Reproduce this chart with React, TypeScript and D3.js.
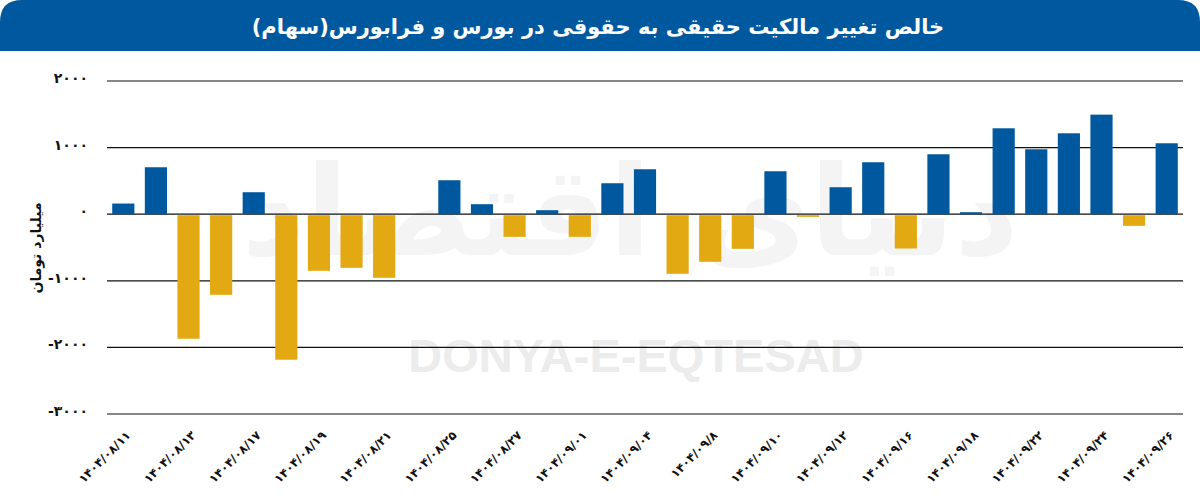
import React from "react";
import * as d3 from "d3";

const title = "خالص تغییر مالکیت حقیقی به حقوقی در بورس و فرابورس(سهام)";
const yAxisLabel = "میلیارد تومان";
const watermark = "DONYA-E-EQTESAD";
const watermarkFa = "دنیای اقتصاد";

const dates = [
  "۱۴۰۴/۰۸/۱۱", "۱۴۰۴/۰۸/۱۲", "۱۴۰۴/۰۸/۱۳", "۱۴۰۴/۰۸/۱۴", "۱۴۰۴/۰۸/۱۷",
  "۱۴۰۴/۰۸/۱۸", "۱۴۰۴/۰۸/۱۹", "۱۴۰۴/۰۸/۲۰", "۱۴۰۴/۰۸/۲۱", "۱۴۰۴/۰۸/۲۴",
  "۱۴۰۴/۰۸/۲۵", "۱۴۰۴/۰۸/۲۶", "۱۴۰۴/۰۸/۲۷", "۱۴۰۴/۰۸/۲۸", "۱۴۰۴/۰۹/۰۱",
  "۱۴۰۴/۰۹/۰۳", "۱۴۰۴/۰۹/۰۴", "۱۴۰۴/۰۹/۰۵", "۱۴۰۴/۰۹/۸", "۱۴۰۴/۰۹/۰۹",
  "۱۴۰۴/۰۹/۱۰", "۱۴۰۴/۰۹/۱۱", "۱۴۰۴/۰۹/۱۲", "۱۴۰۴/۰۹/۱۵", "۱۴۰۴/۰۹/۱۶",
  "۱۴۰۴/۰۹/۱۷", "۱۴۰۴/۰۹/۱۸", "۱۴۰۴/۰۹/۱۹", "۱۴۰۴/۰۹/۲۲", "۱۴۰۴/۰۹/۲۳",
  "۱۴۰۴/۰۹/۲۴", "۱۴۰۴/۰۹/۲۵", "۱۴۰۴/۰۹/۲۶",
];

const values = [
  160, 705, -1855, -1195, 330, -2170, -835, -790, -940, 0,
  510, 150, -325, 60, -325, 465, 675, -880, -700, -505,
  645, -25, 405, 780, -500, 900, 30, 1290, 975, 1215,
  1495, -160, 1065,
];

const yTicks = [2000, 1000, 0, -1000, -2000, -3000];
const yTickLabels = ["۲۰۰۰", "۱۰۰۰", "۰", "-۱۰۰۰", "-۲۰۰۰", "-۳۰۰۰"];

const W = 1200;
const H = 502;
const BLUE = "#00599f";
const GOLD = "#e3a912";
const FONT = "'DejaVu Sans', sans-serif";

export default function App() {
  const x = d3
    .scaleBand<string>()
    .domain(dates)
    .range([107, 1183])
    .paddingInner(0.32)
    .paddingOuter(0.16);
  const y = d3.scaleLinear().domain([-3000, 2000]).range([414, 81]);

  const r = 22;
  const barH = 51;
  const headerPath = `M0,${barH} L0,${r} Q0,0 ${r},0 L${W - r},0 Q${W},0 ${W},${r} L${W},${barH} Z`;

  return (
    <div style={{ position: "absolute", left: 0, top: 0, width: W, height: H }}>
      <svg width={W} height={H} viewBox={`0 0 ${W} ${H}`} style={{ display: "block", background: "#fff" }}>
        <rect x={0} y={0} width={W} height={H} fill="#fff" />
        <path d={headerPath} fill={BLUE} />
        <text
          x={598}
          y={34}
          textAnchor="middle"
          fill="#fff"
          fontFamily={FONT}
          fontWeight="bold"
          fontSize={21}
          direction="rtl"
        >
          {title}
        </text>

        {/* watermarks */}
        <text
          x={630}
          y={255}
          textAnchor="middle"
          fill="#f4f4f4"
          fontFamily={FONT}
          fontWeight="bold"
          fontSize={125}
          direction="rtl"
        >
          {watermarkFa}
        </text>
        <text
          x={636}
          y={372}
          textAnchor="middle"
          fill="#ececec"
          fontFamily={"'Liberation Sans', Arial, sans-serif"}
          fontWeight="bold"
          fontSize={47}
        >
          {watermark}
        </text>

        {/* gridlines */}
        {yTicks.map((t) => (
          <line key={t} x1={107} x2={1183} y1={y(t)} y2={y(t)} stroke="#111" strokeWidth={1.2} />
        ))}

        {/* y tick labels */}
        {yTicks.map((t, i) => (
          <text
            key={"l" + t}
            x={88}
            y={y(t) - 2}
            textAnchor="end"
            dominantBaseline="middle"
            fontFamily={FONT}
            fontWeight="bold"
            fontSize={14}
            fill="#111"
          >
            {yTickLabels[i]}
          </text>
        ))}

        {/* y axis label */}
        <text
          transform={`translate(41,248) rotate(-90)`}
          textAnchor="middle"
          fontFamily={FONT}
          fontWeight="bold"
          fontSize={14}
          fill="#111"
          direction="rtl"
        >
          {yAxisLabel}
        </text>

        {/* bars */}
        {dates.map((d, i) => {
          const v = values[i];
          const y0 = y(0);
          const yv = y(v);
          const top = v >= 0 ? yv : y0 + 1;
          const h = Math.abs(yv - y0);
          return (
            <rect
              key={d}
              x={x(d)!}
              y={top}
              width={x.bandwidth()}
              height={h}
              fill={v >= 0 ? BLUE : GOLD}
            />
          );
        })}

        {/* x tick labels */}
        {dates.map((d, i) =>
          i % 2 === 0 ? (
            <text
              key={"x" + d}
              transform={`translate(${x(d)! + x.bandwidth() / 2 + 8},${436}) rotate(-45)`}
              textAnchor="end"
              fontFamily={FONT}
              fontWeight="bold"
              fontSize={12}
              fill="#111"
            >
              {d}
            </text>
          ) : null
        )}
      </svg>
    </div>
  );
}
